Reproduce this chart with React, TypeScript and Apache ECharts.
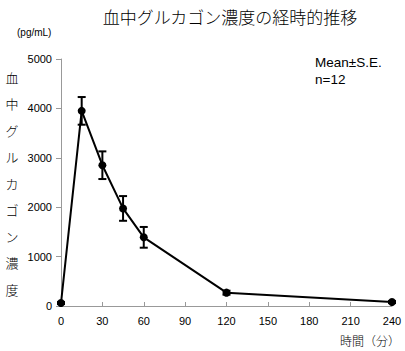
import React, { useEffect, useRef } from "react";
import * as echarts from "echarts";

const times = [0, 15, 30, 45, 60, 120, 240];
const means = [60, 3950, 2850, 1975, 1390, 270, 80];
const errors = [20, 280, 280, 250, 210, 40, 20];
const xTicks = [0, 30, 60, 90, 120, 150, 180, 210, 240];
const yTicks = [0, 1000, 2000, 3000, 4000, 5000];
const titleText = "血中グルカゴン濃度の経時的推移";
const yName = "血中グルカゴン濃度";
const unitText = "(pg/mL)";
const xName = "時間（分）";
const legendLines = ["Mean±S.E.", "n=12"];

export default function App() {
  const ref = useRef<HTMLDivElement>(null);
  useEffect(() => {
    if (!ref.current) return;
    const chart = echarts.init(ref.current, null, { renderer: "svg" });
    const lineData = times.map((t, i) => [t, means[i]]);
    const errData = times.map((t, i) => [t, means[i] - errors[i], means[i] + errors[i]]);
    const latin = "Liberation Sans, Arial, sans-serif";
    const cjk = "Noto Sans CJK JP, sans-serif";
    chart.setOption({
      animation: false,
      backgroundColor: "#fff",
      grid: { left: 61, right: 13, top: 59, bottom: 45, containLabel: false },
      xAxis: {
        type: "value",
        min: xTicks[0],
        max: xTicks[xTicks.length - 1],
        interval: 30,
        axisLine: { show: true, lineStyle: { color: "#999", width: 1 } },
        axisTick: { show: true, inside: true, length: 4, lineStyle: { color: "#999" } },
        axisLabel: { color: "#000", fontSize: 11, fontFamily: latin, margin: 9, formatter: (v: number) => String(v) },
        splitLine: { show: false },
      },
      yAxis: {
        type: "value",
        min: yTicks[0],
        max: yTicks[yTicks.length - 1],
        interval: 1000,
        axisLine: { show: true, lineStyle: { color: "#999", width: 1 } },
        axisTick: { show: true, inside: false, length: 5, lineStyle: { color: "#999" } },
        axisLabel: { color: "#000", fontSize: 11, fontFamily: latin, margin: 9, formatter: (v: number) => String(v) },
        splitLine: { show: false },
      },
      series: [
        {
          type: "custom",
          data: errData,
          z: 3,
          renderItem: (params: any, api: any) => {
            const x = api.value(0);
            const lo = api.coord([x, api.value(1)]);
            const hi = api.coord([x, api.value(2)]);
            const w = 4;
            const style = { stroke: "#000", lineWidth: 2 };
            return {
              type: "group",
              children: [
                { type: "line", shape: { x1: lo[0], y1: lo[1], x2: hi[0], y2: hi[1] }, style },
                { type: "line", shape: { x1: lo[0] - w, y1: lo[1], x2: lo[0] + w, y2: lo[1] }, style },
                { type: "line", shape: { x1: hi[0] - w, y1: hi[1], x2: hi[0] + w, y2: hi[1] }, style },
              ],
            };
          },
        },
        {
          type: "line",
          data: lineData,
          z: 4,
          symbol: "circle",
          symbolSize: 8,
          lineStyle: { color: "#000", width: 2 },
          itemStyle: { color: "#000" },
        },
      ],
      graphic: [
        {
          type: "text",
          x: 230,
          y: 16,
          style: { text: titleText, fontSize: 17, fontWeight: 300, fontFamily: cjk, fill: "#000", align: "center", verticalAlign: "middle" },
        },
        {
          type: "text",
          x: 17,
          y: 32,
          style: { text: unitText, fontSize: 10, fontFamily: latin, fill: "#000", verticalAlign: "middle" },
        },
        {
          type: "text",
          x: 12,
          y: 183,
          style: {
            text: yName.split("").join("\n"),
            fontSize: 13,
            fontWeight: 300,
            lineHeight: 26.5,
            fontFamily: cjk,
            fill: "#000",
            align: "center",
            verticalAlign: "middle",
          },
        },
        {
          type: "text",
          x: 340,
          y: 340,
          style: { text: xName, fontSize: 12, fontWeight: 300, fontFamily: cjk, fill: "#000", align: "left", verticalAlign: "middle" },
        },
        {
          type: "text",
          x: 315,
          y: 62,
          style: { text: legendLines[0], fontSize: 13.5, fontFamily: latin, fill: "#000", verticalAlign: "middle" },
        },
        {
          type: "text",
          x: 315,
          y: 79,
          style: { text: legendLines[1], fontSize: 13.5, fontFamily: latin, fill: "#000", verticalAlign: "middle" },
        },
      ],
    });
    return () => chart.dispose();
  }, []);
  return <div ref={ref} style={{ width: 405, height: 351, position: "absolute", left: 0, top: 0 }} />;
}
